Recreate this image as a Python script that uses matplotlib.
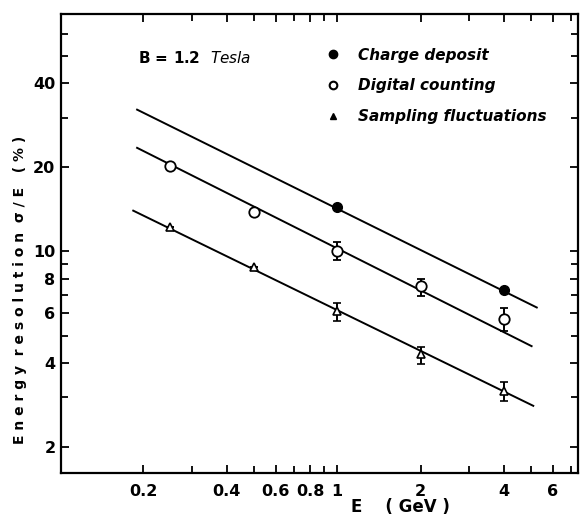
import numpy as np
import matplotlib
matplotlib.use('Agg')
import matplotlib.pyplot as plt
from matplotlib.lines import Line2D

# (E in GeV, resolution in %)
charge_E = [1, 4]
charge_res = [14.4, 7.26]

digital_E = [0.25, 0.5, 1, 2, 4]
digital_res = [20.3, 13.9, 10.0, 7.5, 5.72]
digital_lo = [0, 0, 0.71, 0.6, 0.53]
digital_hi = [0, 0, 0.77, 0.5, 0.54]

sampling_E = [0.25, 0.5, 1, 2, 4]
sampling_res = [12.2, 8.77, 6.1, 4.29, 3.16]
sampling_lo = [0, 0, 0.48, 0.34, 0.25]
sampling_hi = [0, 0, 0.42, 0.25, 0.25]

# fitted lines, end points
charge_fit_E = [0.19, 5.25]
charge_fit_res = [32.2, 6.3]
digital_fit_E = [0.19, 5.03]
digital_fit_res = [23.5, 4.58]
sampling_fit_E = [0.184, 5.1]
sampling_fit_res = [14.0, 2.8]

x_major = [0.2, 0.4, 0.6, 0.8, 1, 2, 4, 6]
x_labels = ['0.2', '0.4', '0.6', '0.8', '1', '2', '4', '6']
x_minor = [0.3, 0.5, 0.7, 0.9, 3, 5, 7]
y_major = [2, 4, 6, 8, 10, 20, 40]
y_labels = ['2', '4', '6', '8', '10', '20', '40']
y_minor = [3, 5, 7, 9, 30, 50, 60]

fig = plt.figure(figsize=(5.81, 5.22), dpi=100)
ax = fig.add_axes([0.105, 0.094, 0.89, 0.879])
ax.set_xscale('log')
ax.set_yscale('log')
ax.set_xlim(0.101, 7.4)
ax.set_ylim(1.61, 70.8)

for fe, fr in [(charge_fit_E, charge_fit_res), (digital_fit_E, digital_fit_res),
               (sampling_fit_E, sampling_fit_res)]:
    ax.plot(fe, fr, color='black', lw=1.4)

ax.plot(charge_E, charge_res, 'o', color='black', ms=7)
ax.errorbar(digital_E, digital_res, yerr=[digital_lo, digital_hi], fmt='o', mfc='white',
            mec='black', ecolor='black', ms=7.5, mew=1.3, capsize=3, elinewidth=1.4, capthick=1.4)
ax.errorbar(sampling_E, sampling_res, yerr=[sampling_lo, sampling_hi], fmt='^', mfc='white',
            mec='black', ecolor='black', ms=5.5, mew=1.2, capsize=3, elinewidth=1.4, capthick=1.4)

ax.xaxis.set_major_locator(matplotlib.ticker.FixedLocator(x_major))
ax.xaxis.set_major_formatter(matplotlib.ticker.FixedFormatter(x_labels))
ax.xaxis.set_minor_locator(matplotlib.ticker.FixedLocator(x_minor))
ax.xaxis.set_minor_formatter(matplotlib.ticker.NullFormatter())
ax.yaxis.set_major_locator(matplotlib.ticker.FixedLocator(y_major))
ax.yaxis.set_major_formatter(matplotlib.ticker.FixedFormatter(y_labels))
ax.yaxis.set_minor_locator(matplotlib.ticker.FixedLocator(y_minor))
ax.yaxis.set_minor_formatter(matplotlib.ticker.NullFormatter())

ax.tick_params(which='both', direction='in', top=True, right=True, width=1.3,
               labelsize=11.5, pad=4)
ax.tick_params(axis='x', pad=8)
ax.tick_params(which='major', length=6)
ax.tick_params(which='minor', length=5)
for lab in ax.get_xticklabels() + ax.get_yticklabels():
    lab.set_fontweight('bold')
for sp in ax.spines.values():
    sp.set_linewidth(1.6)

ax.set_ylabel('E n e r g y  r e s o l u t i o n  σ / E   ( % )',
              fontsize=10, fontweight='bold')
ax.yaxis.set_label_coords(-0.065, 0.40)
fig.text(400 / 581, 1 - 507 / 522, 'E    ( GeV )', fontsize=12, fontweight='bold',
         ha='center', va='center')
fig.text(138 / 581, 1 - 58 / 522, 'B = 1.2  $\\it{Tesla}$', fontsize=11,
         fontweight='bold', ha='left', va='center')

handles = [Line2D([], [], ls='', marker='o', color='black', ms=6),
           Line2D([], [], ls='', marker='o', mfc='white', mec='black', mew=1.5, ms=5.5),
           Line2D([], [], ls='', marker='^', color='black', ms=5)]
ax.legend(handles, ['Charge deposit', 'Digital counting', 'Sampling fluctuations'],
          loc='upper left', bbox_to_anchor=(312 / 581, 1 - 34 / 522),
          bbox_transform=fig.transFigure, frameon=False, handlelength=1.0,
          handletextpad=1.1, labelspacing=1.02,
          prop={'size': 11, 'weight': 'bold', 'style': 'italic'})

plt.savefig('out.png', dpi=100)
